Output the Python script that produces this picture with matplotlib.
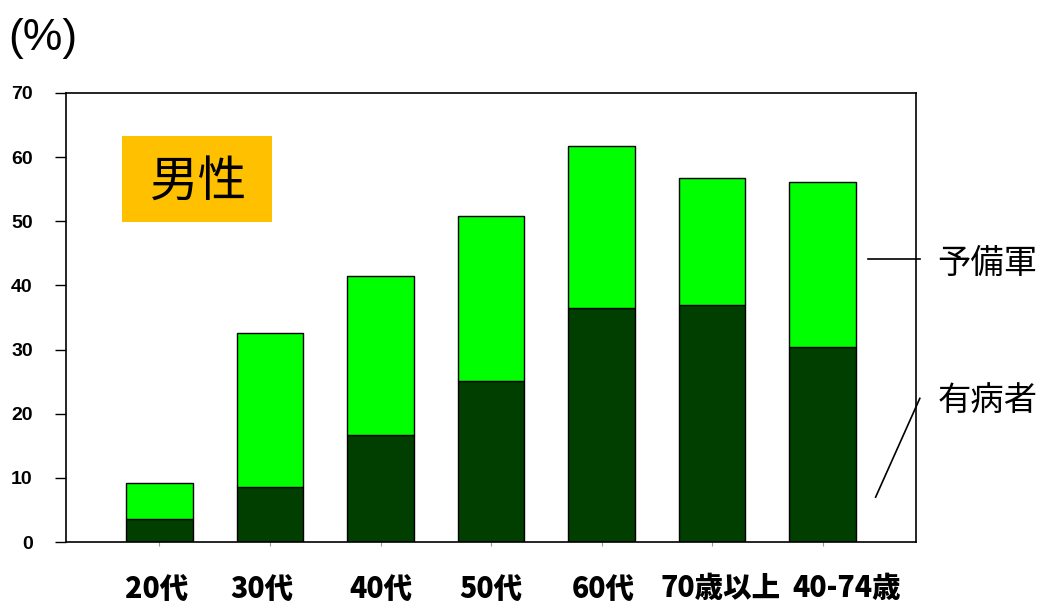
import numpy as np
import matplotlib.pyplot as plt
import matplotlib.transforms as mtransforms
from matplotlib.patches import Rectangle

plt.rcParams['font.family'] = ['Noto Sans CJK JP', 'DejaVu Sans']

# データ
categories = ['20代', '30代', '40代', '50代', '60代', '70歳以上', '40-74歳']
yubyosha = [3.6, 8.6, 16.7, 25.1, 36.5, 37.0, 30.4]      # 有病者
yobigun_total = [9.2, 32.6, 41.5, 50.8, 61.7, 56.7, 56.1]  # 有病者 + 予備軍
yobigun = [t - b for t, b in zip(yobigun_total, yubyosha)]
y_ticks = [0, 10, 20, 30, 40, 50, 60, 70]

x = np.arange(len(categories))

fig = plt.figure(figsize=(10.41, 6.05), dpi=100)
ax = fig.add_axes([0.0634, 0.1041, 0.8166, 0.7422])

ax.bar(x, yubyosha, width=0.6, color='#003F00', edgecolor='black', linewidth=1)
ax.bar(x, yobigun, width=0.6, bottom=yubyosha, color='#00FF00', edgecolor='black', linewidth=1)

ax.set_xlim(-0.846, 6.846)
ax.set_ylim(0, 70)
ax.set_yticks(y_ticks)
ax.set_yticklabels([str(v) for v in y_ticks], fontfamily='Liberation Sans',
                   fontweight='bold', fontsize=14)
ax.tick_params(axis='y', length=8, width=1, pad=16, colors='black')
ax.set_xticks(x)
ax.set_xticklabels(categories, fontweight='heavy', fontsize=20.5)
ax.tick_params(axis='x', length=3, width=0.8, pad=20, color='#999999')

# 元の図のようにラベルを少しずらす
shifts = [-3, -8, 0, 0, 2, 8, 24]
for lab, dx in zip(ax.get_xticklabels(), shifts):
    lab.set_transform(lab.get_transform() +
                      mtransforms.ScaledTranslation(dx / 100, 0, fig.dpi_scale_trans))

for s in ax.spines.values():
    s.set_linewidth(1.2)
    s.set_color('black')

# (%)
fig.text(0.008, 0.937, '(%)', fontsize=32, fontfamily='Liberation Sans', va='center', ha='left')

# 男性 ラベル
ax.add_patch(Rectangle((-0.34, 49.9), 1.36, 13.4, facecolor='#FFC000', edgecolor='none'))
ax.text(0.35, 56.2, '男性', fontsize=35, ha='center', va='center')

# 凡例代わりの注記
ax.plot([6.41, 6.88], [44.1, 44.1], color='black', linewidth=1.2, clip_on=False)
ax.text(7.04, 43.4, '予備軍', fontsize=24, ha='left', va='center', clip_on=False)
ax.plot([6.48, 6.88], [7.0, 22.4], color='black', linewidth=1.2, clip_on=False)
ax.text(7.04, 22.0, '有病者', fontsize=24, ha='left', va='center', clip_on=False)

plt.savefig('out.png', dpi=100)
